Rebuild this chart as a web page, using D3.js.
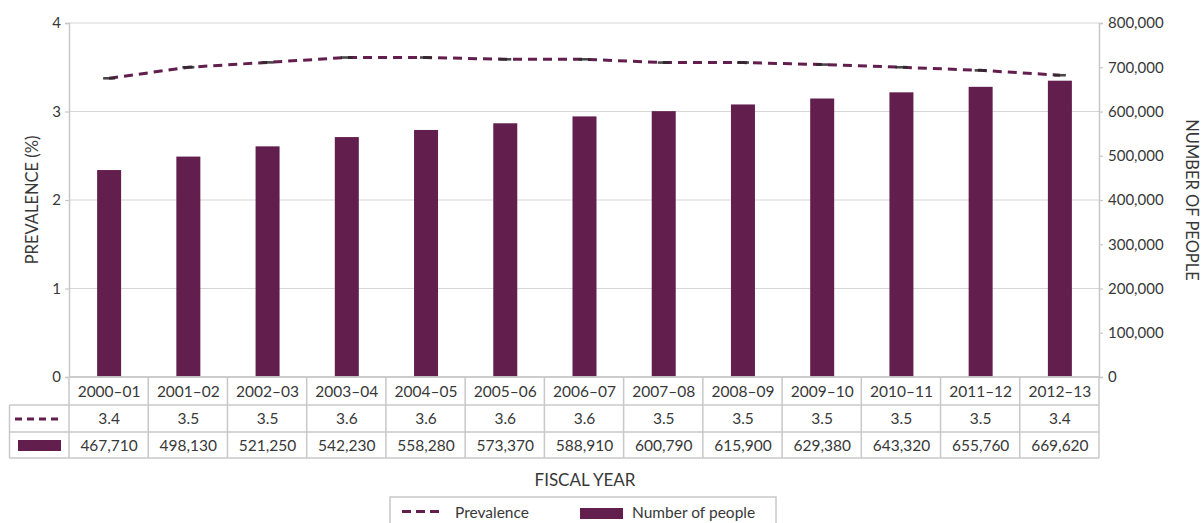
<!DOCTYPE html>
<html><head><meta charset="utf-8">
<script src="https://cdn.jsdelivr.net/npm/d3@7"></script>
<style>
html,body{margin:0;padding:0;background:#fff;}
svg{display:block;font-family:Lato,"Open Sans",sans-serif;}
</style></head>
<body><svg id="c" width="1204" height="523"></svg>
<script>
const years = ["2000–01","2001–02","2002–03","2003–04","2004–05","2005–06","2006–07","2007–08","2008–09","2009–10","2010–11","2011–12","2012–13"];
const prevalenceLabels = ["3.4","3.5","3.5","3.6","3.6","3.6","3.6","3.5","3.5","3.5","3.5","3.5","3.4"];
const prevalence = [3.375,3.50,3.555,3.61,3.61,3.59,3.59,3.553,3.553,3.53,3.50,3.465,3.41];
const people = [467710,498130,521250,542230,558280,573370,588910,600790,615900,629380,643320,655760,669620];
const leftTicks = [0,1,2,3,4];
const rightTicks = [0,100000,200000,300000,400000,500000,600000,700000,800000];

const purple = "#621f4e";
const gridC = "#d6d6d6";
const lineC = "#c8c8c8";
const textC = "#383838";
const L = 69, R = 1099, T = 23, B = 377;
const rowH = [B, 405, 432, 458];
const legX = 9.5;

const svg = d3.select("#c");
const x = d3.scaleBand().domain(years).range([L, R]).padding(0);
const yL = d3.scaleLinear().domain([0,4]).range([B, T]);
const yR = d3.scaleLinear().domain([0,800000]).range([B, T]);
const barW = 24;
const cx = d => x(d) + x.bandwidth()/2 + 0.5;

// gridlines
svg.append("g").selectAll("line").data(leftTicks.filter(d=>d>0)).join("line")
  .attr("x1", L).attr("x2", R).attr("y1", d=>yL(d)).attr("y2", d=>yL(d))
  .attr("stroke", gridC).attr("stroke-width", 1.2);

// left axis
const gl = svg.append("g").attr("transform", `translate(${L},0)`)
  .call(d3.axisLeft(yL).tickValues(leftTicks).tickSize(4).tickPadding(4).tickFormat(d3.format("d")));
gl.select(".domain").attr("stroke", lineC).attr("stroke-width", 1.5);
gl.selectAll(".tick line").attr("stroke", lineC).attr("stroke-width", 1.2);
gl.selectAll(".tick text").attr("fill", textC).attr("font-size", 15).attr("font-family","Lato");

// right axis
const gr = svg.append("g").attr("transform", `translate(${R},0)`)
  .call(d3.axisRight(yR).tickValues(rightTicks).tickSize(4).tickPadding(5).tickFormat(d3.format(",")));
gr.select(".domain").attr("stroke", lineC).attr("stroke-width", 1.5);
gr.selectAll(".tick line").attr("stroke", lineC).attr("stroke-width", 1.2);
gr.selectAll(".tick text").attr("fill", textC).attr("font-size", 15).attr("font-family","Lato");

// bars
svg.append("g").selectAll("rect").data(years).join("rect")
  .attr("x", d => cx(d) - barW/2)
  .attr("width", barW)
  .attr("y", (d,i)=> yR(people[i]))
  .attr("height", (d,i)=> B - yR(people[i]))
  .attr("fill", purple);

// line
const line = d3.line().x((d,i)=>cx(years[i])).y(d=>yL(d));
svg.append("path").datum(prevalence).attr("d", line)
  .attr("fill","none").attr("stroke", purple).attr("stroke-width", 3)
  .attr("stroke-dasharray","9,6");
svg.append("g").selectAll("line").data(prevalence).join("line")
  .attr("x1",(d,i)=>cx(years[i])-6).attr("x2",(d,i)=>cx(years[i])+6)
  .attr("y1",d=>yL(d)).attr("y2",d=>yL(d))
  .attr("stroke","#2a2a2a").attr("stroke-width",2.6).attr("opacity",0.85);

// bottom axis line
svg.append("line").attr("x1",L).attr("x2",R).attr("y1",B).attr("y2",B)
  .attr("stroke", lineC).attr("stroke-width",1.5);

// table
const tg = svg.append("g");
const hl = [[L, rowH[0]],[legX, rowH[1]],[legX, rowH[2]],[legX, rowH[3]]];
hl.forEach(([x0,yy]) => tg.append("line").attr("x1",x0).attr("x2",R).attr("y1",yy).attr("y2",yy).attr("stroke",lineC).attr("stroke-width",1.5));
const bounds = years.map(d=>x(d)).concat([R]);
tg.selectAll("line.v").data(bounds).join("line").attr("class","v")
  .attr("x1",d=>d).attr("x2",d=>d).attr("y1",rowH[0]).attr("y2",rowH[3])
  .attr("stroke",lineC).attr("stroke-width",1.5);
tg.append("line").attr("x1",legX).attr("x2",legX).attr("y1",rowH[1]).attr("y2",rowH[3]).attr("stroke",lineC).attr("stroke-width",1.5);

const rowText = (arr, r) => tg.append("g").selectAll("text").data(arr).join("text")
  .attr("x",(d,i)=>cx(years[i]))
  .attr("y",(rowH[r]+rowH[r+1])/2 + 5.5)
  .attr("text-anchor","middle").attr("font-size",15.5).attr("fill",textC)
  .text(d=>d);
rowText(years, 0);
rowText(prevalenceLabels, 1);
rowText(people.map(d3.format(",")), 2);

// table legend keys
tg.append("line").attr("x1",15).attr("x2",61).attr("y1",419).attr("y2",419)
  .attr("stroke",purple).attr("stroke-width",3).attr("stroke-dasharray","7,5");
tg.append("rect").attr("x",18).attr("y",440).attr("width",43).attr("height",11).attr("fill",purple);

// axis titles
svg.append("text").attr("transform","translate(38,200) rotate(-90)")
  .attr("text-anchor","middle").attr("font-size",16.5).attr("fill",textC).text("PREVALENCE (%)");
svg.append("text").attr("transform","translate(1186,200) rotate(90)")
  .attr("text-anchor","middle").attr("font-size",16.5).attr("fill",textC).text("NUMBER OF PEOPLE");
svg.append("text").attr("x",585).attr("y",485.5)
  .attr("text-anchor","middle").attr("font-size",17).attr("fill",textC).text("FISCAL YEAR");

// legend
const lg = svg.append("g");
lg.append("rect").attr("x",390).attr("y",497).attr("width",386).attr("height",40)
  .attr("fill","none").attr("stroke",lineC).attr("stroke-width",1.5);
lg.append("line").attr("x1",402).attr("x2",444).attr("y1",511.5).attr("y2",511.5)
  .attr("stroke",purple).attr("stroke-width",3).attr("stroke-dasharray","9,5");
lg.append("text").attr("x",455).attr("y",518).attr("font-size",15.5).attr("fill",textC).text("Prevalence");
lg.append("rect").attr("x",580).attr("y",508).attr("width",43).attr("height",11).attr("fill",purple);
lg.append("text").attr("x",632).attr("y",518).attr("font-size",15.5).attr("fill",textC).text("Number of people");
</script></body></html>
